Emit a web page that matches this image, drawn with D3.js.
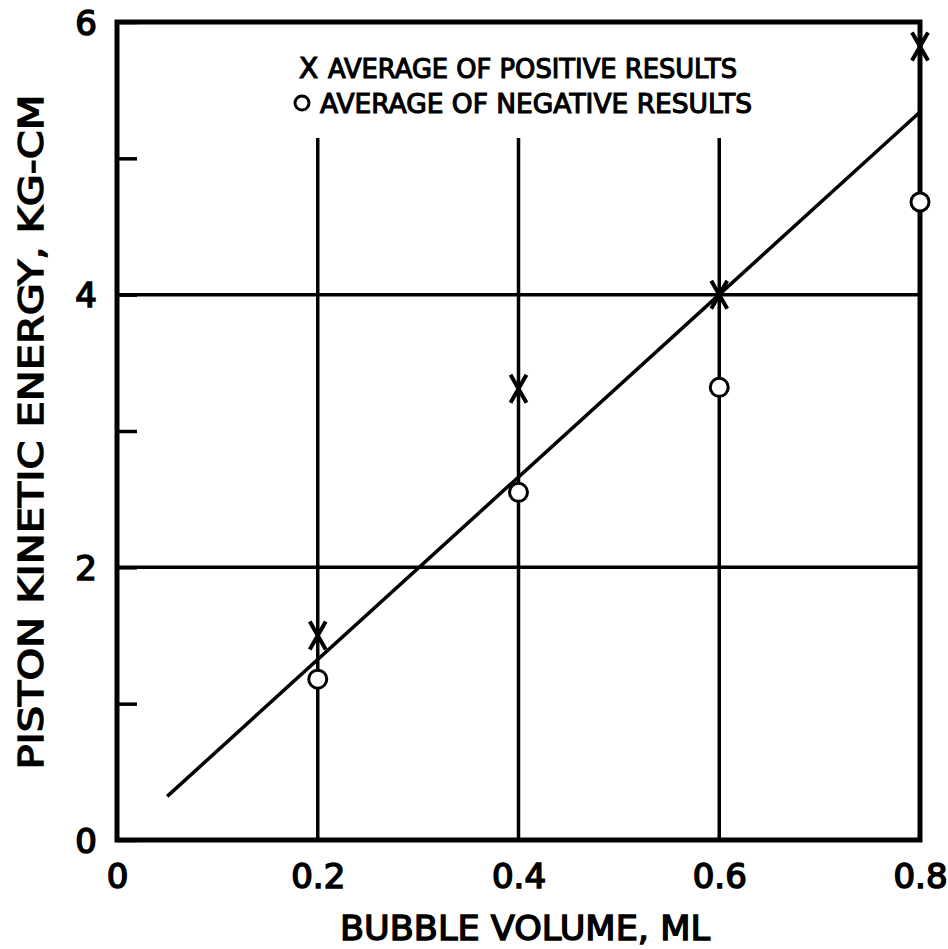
<!DOCTYPE html>
<html>
<head>
<meta charset="utf-8">
<script src="https://cdn.jsdelivr.net/npm/d3@7"></script>
<style>
  body { margin: 0; background: #fff; }
  text { font-family: "DejaVu Sans", sans-serif; fill: #000; }
</style>
</head>
<body id="viz">
<script>
// data
var volumes = [0.2, 0.4, 0.6, 0.8]
var positiveAvg = [1.5, 3.31, 4.0, 5.82]
var negativeAvg = [1.18, 2.55, 3.32, 4.68]
var fitLine = [[0.05, 0.32], [0.8, 5.34]]
var xTicks = [0, 0.2, 0.4, 0.6, 0.8]
var xTickLabels = ["0", "0.2", "0.4", "0.6", "0.8"]
var yTicks = [0, 1, 2, 3, 4, 5, 6]
var yTickLabels = ["0", "", "2", "", "4", "", "6"]
var hGrid = [2, 4]
var vGrid = [0.2, 0.4, 0.6]
var vGridTop = 5.15
var legendLabels = ["AVERAGE OF POSITIVE RESULTS", "AVERAGE OF NEGATIVE RESULTS"]

// layout
svg_width = 948
svg_height = 949
plot = {left: 117, right: 920, top: 22, bottom: 840}
line_w = 3.5

svg = d3.select("body#viz")
  .append("svg")
  .attr("width", svg_width)
  .attr("height", svg_height)

var x = d3.scaleLinear().domain([0, 0.8]).range([plot.left, plot.right])
var y = d3.scaleLinear().domain([0, 6]).range([plot.bottom, plot.top])

// grid lines
svg.append("g")
  .selectAll("line")
  .data(hGrid)
  .enter().append("line")
    .attr("x1", plot.left).attr("x2", plot.right)
    .attr("y1", function(d) { return y(d) })
    .attr("y2", function(d) { return y(d) })
    .style("stroke", "#000")
    .style("stroke-width", line_w)

svg.append("g")
  .selectAll("line")
  .data(vGrid)
  .enter().append("line")
    .attr("x1", function(d) { return x(d) })
    .attr("x2", function(d) { return x(d) })
    .attr("y1", plot.bottom)
    .attr("y2", y(vGridTop))
    .style("stroke", "#000")
    .style("stroke-width", line_w)

// left axis with short inside ticks
var yAxis = d3.axisLeft(y)
  .tickValues(yTicks)
  .tickSizeInner(-20)
  .tickSizeOuter(0)
  .tickPadding(20)
  .tickFormat(function(d, i) { return yTickLabels[i] })

var gy = svg.append("g")
  .attr("transform", "translate(" + plot.left + ",0)")
  .call(yAxis)
gy.select(".domain").remove()
gy.selectAll(".tick line").style("stroke", "#000").style("stroke-width", line_w)
gy.selectAll(".tick text")
  .style("font-size", "34px")
  .style("stroke", "#000").style("stroke-width", 1.6)
  .attr("dy", "0.36em")

var xAxis = d3.axisBottom(x)
  .tickValues(xTicks)
  .tickSize(0)
  .tickPadding(24)
  .tickFormat(function(d, i) { return xTickLabels[i] })

var gx = svg.append("g")
  .attr("transform", "translate(0," + plot.bottom + ")")
  .call(xAxis)
gx.select(".domain").remove()
gx.selectAll(".tick text")
  .style("font-size", "34px")
  .style("stroke", "#000").style("stroke-width", 1.6)
  .attr("dy", "0.71em")

// frame
svg.append("rect")
  .attr("x", plot.left).attr("y", plot.top)
  .attr("width", plot.right - plot.left)
  .attr("height", plot.bottom - plot.top)
  .style("fill", "none")
  .style("stroke", "#000")
  .style("stroke-width", 5)

// fitted line
svg.append("path")
  .datum(fitLine)
  .attr("d", d3.line().x(function(d) { return x(d[0]) }).y(function(d) { return y(d[1]) }))
  .style("fill", "none")
  .style("stroke", "#000")
  .style("stroke-width", line_w)

// negative results: open circles
svg.append("g")
  .selectAll("circle")
  .data(negativeAvg)
  .enter().append("circle")
    .attr("cx", function(d, i) { return x(volumes[i]) })
    .attr("cy", function(d) { return y(d) })
    .attr("r", 9)
    .style("fill", "#fff")
    .style("stroke", "#000")
    .style("stroke-width", 3)

// positive results: tall X marks
var xMark = "M-8,-14L8,14M8,-14L-8,14"
svg.append("g")
  .selectAll("path")
  .data(positiveAvg)
  .enter().append("path")
    .attr("transform", function(d, i) { return "translate(" + x(volumes[i]) + "," + y(d) + ")" })
    .attr("d", xMark)
    .style("fill", "none")
    .style("stroke", "#000")
    .style("stroke-width", 4)

// legend
var legend = svg.append("g")
legend.append("text")
  .attr("x", 299).attr("y", 78)
  .text("X")
  .style("font-size", "28px")
  .style("stroke", "#000").style("stroke-width", 1.2)
legend.append("circle")
  .attr("cx", 302).attr("cy", 103)
  .attr("r", 7)
  .style("fill", "none")
  .style("stroke", "#000")
  .style("stroke-width", 3)
legend.selectAll("text.lab")
  .data(legendLabels)
  .enter().append("text")
    .attr("class", "lab")
    .attr("x", function(d, i) { return i == 0 ? 328 : 320 })
    .attr("y", function(d, i) { return 78 + i * 35 })
    .attr("textLength", function(d, i) { return i == 0 ? 409 : 432 })
    .attr("lengthAdjust", "spacingAndGlyphs")
    .text(function(d) { return d })
    .style("font-size", "27px")
    .style("stroke", "#000").style("stroke-width", 1.2)

// axis titles
svg.append("text")
  .attr("x", 525).attr("y", 940)
  .attr("text-anchor", "middle")
  .attr("textLength", 370)
  .attr("lengthAdjust", "spacingAndGlyphs")
  .text("BUBBLE VOLUME, ML")
  .style("font-size", "33px")
  .style("stroke", "#000").style("stroke-width", 1.4)

svg.append("text")
  .attr("transform", "translate(43,432) rotate(-90)")
  .attr("text-anchor", "middle")
  .attr("textLength", 675)
  .attr("lengthAdjust", "spacingAndGlyphs")
  .text("PISTON KINETIC ENERGY, KG-CM")
  .style("font-size", "33px")
  .style("stroke", "#000").style("stroke-width", 1.4)
</script>
</body>
</html>
